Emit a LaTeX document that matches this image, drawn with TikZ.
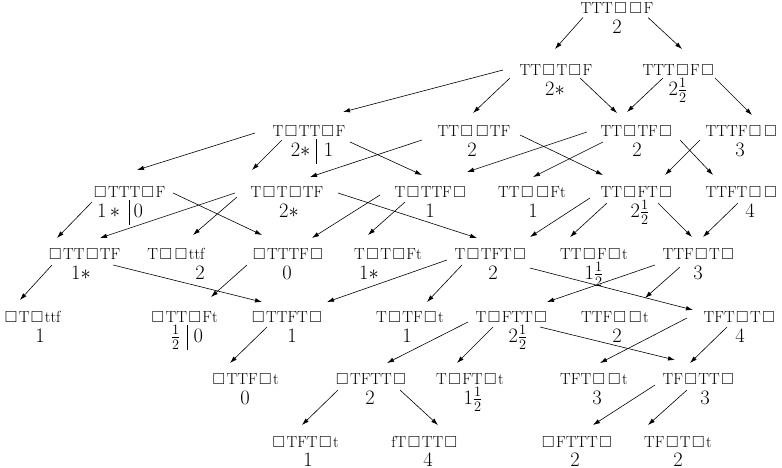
\RequirePackage{fix-cm}
\documentclass[tikz,border=0pt]{standalone}
\usepackage{amssymb}
\usetikzlibrary{arrows.meta,calc}
\newcommand\sq{\kern1.5pt\ensuremath{\square}\kern1.5pt}
\newcommand\vbar{\vrule height 18pt depth 7.5pt}
\tikzset{
  st/.style={inner sep=0pt, font=\fontsize{16}{19}\selectfont, text height=11pt, text depth=0pt},
  num/.style={inner sep=0pt, font=\fontsize{20.5}{24}\selectfont, text height=13.2pt, text depth=0pt},
  arr/.style={-{Latex[length=7pt,width=4.5pt]}, line width=0.6pt},
}
\begin{document}
\begin{tikzpicture}[x=1pt,y=-1pt]
\useasboundingbox (0,0) rectangle (782,468);
% level 0
\node[st] (A) at (617,8.5) {TTT\sq\sq F};
\node[num] (An) at (617,27) {2};
% level 1
\node[st] (B) at (556,70) {TT\sq T\sq F};
\node[num] (Bn) at (555,89) {2$*$};
\node[st] (C) at (679,70) {TTT\sq F\sq};
\node[num] (Cn) at (678,89) {2$\frac12$};
% level 2
\node[st] (D) at (309,131) {T\sq TT\sq F};
\node[num] (Dn) at (312,150) {2$*$\hspace{6pt}\vbar\hspace{7pt}1};
\node[st] (E) at (474,131) {TT\sq\sq TF};
\node[num] (En) at (472,150) {2};
\node[st] (F) at (637,131) {TT\sq TF\sq};
\node[num] (Fn) at (637,150) {2};
\node[st] (G) at (742,131) {TTTF\sq\sq};
\node[num] (Gn) at (740,150) {3};
% level 3
\node[st] (H) at (129,192) {\sq TTT\sq F};
\node[num] (Hn) at (120,211) {1\,$*$\hspace{9pt}\vbar\hspace{4pt}0};
\node[st] (I) at (287,192) {T\sq T\sq TF};
\node[num] (In) at (289,211) {2$*$};
\node[st] (J) at (431,192) {T\sq TTF\sq};
\node[num] (Jn) at (430,211) {1};
\node[st] (K) at (532,192) {TT\sq\sq Ft};
\node[num] (Kn) at (533,211) {1};
\node[st] (L) at (637,192) {TT\sq FT\sq};
\node[num] (Ln) at (640,211) {2$\frac12$};
\node[st] (M) at (742,192) {TTFT\sq\sq};
\node[num] (Mn) at (750,211) {4};
% level 4
\node[st] (N) at (84,254) {\sq TT\sq TF};
\node[num] (Nn) at (81,273) {1$*$};
\node[st] (O) at (176,254) {T\sq\sq ttf};
\node[num] (On) at (200,273) {2};
\node[st] (P) at (288,254) {\sq TTTF\sq};
\node[num] (Pn) at (287,273) {0};
\node[st] (Q) at (388,254) {T\sq T\sq Ft};
\node[num] (Qn) at (369,273) {1$*$};
\node[st] (R) at (491,254) {T\sq TFT\sq};
\node[num] (Rn) at (493,273) {2};
\node[st] (S) at (594,254) {TT\sq F\sq t};
\node[num] (Sn) at (594,273) {1$\frac12$};
\node[st] (T) at (699,254) {TTF\sq T\sq};
\node[num] (Tn) at (698,273) {3};
% level 5
\node[st] (U) at (32,317) {\sq T\sq ttf};
\node[num] (Un) at (40,336) {1};
\node[st] (V) at (184,317) {\sq TT\sq Ft};
\node[num] (Vn) at (187,336) {$\frac12$\hspace{7pt}\vbar\hspace{6pt}0};
\node[st] (W) at (287,317) {\sq TTFT\sq};
\node[num] (Wn) at (292,336) {1};
\node[st] (X) at (410,317) {T\sq TF\sq t};
\node[num] (Xn) at (407,336) {1};
\node[st] (Y) at (512,317) {T\sq FTT\sq};
\node[num] (Yn) at (518,336) {2$\frac12$};
\node[st] (Z) at (615,317) {TTF\sq\sq t};
\node[num] (Zn) at (617,336) {2};
\node[st] (AA) at (740,317) {TFT\sq T\sq};
\node[num] (AAn) at (740,336) {4};
% level 6
\node[st] (AB) at (245,379) {\sq TTF\sq t};
\node[num] (ABn) at (245,398) {0};
\node[st] (AC) at (371,379) {\sq TFTT\sq};
\node[num] (ACn) at (370,398) {2};
\node[st] (AD) at (470,379) {T\sq FT\sq t};
\node[num] (ADn) at (473,398) {1$\frac12$};
\node[st] (AE) at (594,379) {TFT\sq\sq t};
\node[num] (AEn) at (597,398) {3};
\node[st] (AF) at (699,379) {TF\sq TT\sq};
\node[num] (AFn) at (705,398) {3};
% level 7
\node[st] (AG) at (305,442) {\sq TFT\sq t};
\node[num] (AGn) at (308,460) {1};
\node[st] (AH) at (425,442) {fT\sq TT\sq};
\node[num] (AHn) at (428,460) {4};
\node[st] (AI) at (577,442) {\sq FTTT\sq};
\node[num] (AIn) at (575,460) {2};
\node[st] (AJ) at (678,442) {TF\sq T\sq t};
\node[num] (AJn) at (678,460) {2};
% connectors
\draw[arr] ($(A)+(-34,9)$) -- ($(B)+(-1,-21)$);
\draw[arr] ($(A)+(31,9)$) -- ($(C)+(3,-21)$);
\draw[arr] ($(B)+(-53,0)$) -- ($(D)+(34,-19)$);
\draw[arr] ($(B)+(-46,8)$) -- ($(E)+(-1,-18)$);
\draw[arr] ($(B)+(24,8)$) -- ($(F)+(-20,-18)$);
\draw[arr] ($(C)+(-16,8)$) -- ($(F)+(-10,-19)$);
\draw[arr] ($(C)+(36,8)$) -- ($(G)+(10,-16)$);
\draw[arr] ($(D)+(-54,2)$) -- ($(H)+(8,-22)$);
\draw[arr] ($(D)+(-27,9)$) -- ($(I)+(-35,-22)$);
\draw[arr] ($(D)+(41,11)$) -- ($(J)+(-9,-17)$);
\draw[arr] ($(E)+(-52,9)$) -- ($(I)+(23,-15)$);
\draw[arr] ($(E)+(46,4)$) -- ($(L)+(-34,-17)$);
\draw[arr] ($(F)+(-50,1)$) -- ($(J)+(36,-20)$);
\draw[arr] ($(F)+(-34,11)$) -- ($(K)+(1,-15)$);
\draw[arr] ($(F)+(43,9)$) -- ($(M)+(-29,-17)$);
\draw[arr] ($(G)+(-42,9)$) -- ($(L)+(28,-17)$);
\draw[arr] ($(H)+(-37,10)$) -- ($(N)+(-27,-16)$);
\draw[arr] ($(H)+(44,1)$) -- ($(P)+(-26,-19)$);
\draw[arr] ($(I)+(-52,1)$) -- ($(N)+(16,-16)$);
\draw[arr] ($(I)+(-50,5)$) -- ($(O)+(17,-19)$);
\draw[arr] ($(I)+(51,1)$) -- ($(R)+(-14,-16)$);
\draw[arr] ($(J)+(-51,3)$) -- ($(P)+(24,-16)$);
\draw[arr] ($(J)+(-26,10)$) -- ($(Q)+(-20,-19)$);
\draw[arr] ($(L)+(-47,6)$) -- ($(R)+(39,-17)$);
\draw[arr] ($(L)+(-30,11)$) -- ($(S)+(-24,-17)$);
\draw[arr] ($(L)+(21,11)$) -- ($(T)+(-7,-17)$);
\draw[arr] ($(M)+(-4,11)$) -- ($(T)+(4,-17)$);
\draw[arr] ($(N)+(-32,11)$) -- ($(U)+(-12,-17)$);
\draw[arr] ($(N)+(29,11)$) -- ($(W)+(-25,-15)$);
\draw[arr] ($(P)+(-41,11)$) -- ($(V)+(27,-20)$);
\draw[arr] ($(R)+(-44,6)$) -- ($(W)+(40,-15)$);
\draw[arr] ($(R)+(-29,11)$) -- ($(X)+(17,-15)$);
\draw[arr] ($(R)+(39,14)$) -- ($(AA)+(-47,-7)$);
\draw[arr] ($(T)+(-44,11)$) -- ($(Y)+(35,-15)$);
\draw[arr] ($(T)+(-19,13)$) -- ($(Z)+(30,-19)$);
\draw[arr] ($(W)+(-20,10)$) -- ($(AB)+(-15,-16)$);
\draw[arr] ($(Y)+(-44,5)$) -- ($(AC)+(16,-16)$);
\draw[arr] ($(Y)+(-19,10)$) -- ($(AD)+(-13,-16)$);
\draw[arr] ($(Y)+(28,10)$) -- ($(AF)+(-24,-19)$);
\draw[arr] ($(AA)+(-53,1)$) -- ($(AE)+(6,-16)$);
\draw[arr] ($(AA)+(-13,10)$) -- ($(AF)+(-9,-16)$);
\draw[arr] ($(AC)+(-33,11)$) -- ($(AG)+(-3,-17)$);
\draw[arr] ($(AC)+(29,11)$) -- ($(AH)+(13,-17)$);
\draw[arr] ($(AF)+(-44,6)$) -- ($(AI)+(16,-17)$);
\draw[arr] ($(AF)+(-12,11)$) -- ($(AJ)+(-30,-17)$);
\end{tikzpicture}
\end{document}
